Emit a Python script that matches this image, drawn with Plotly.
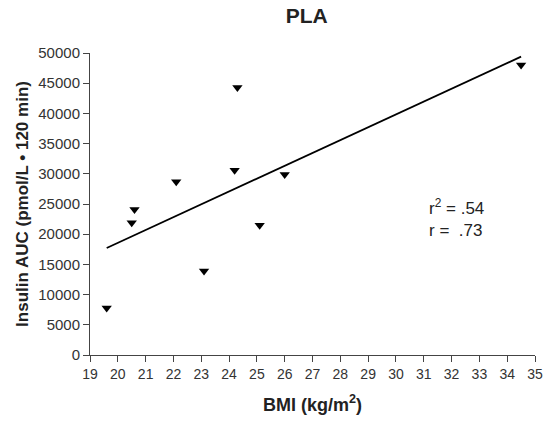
import numpy as np
import plotly.graph_objects as go

bmi = [19.6, 20.5, 20.6, 22.1, 23.1, 24.2, 24.3, 25.1, 26.0, 34.5]
insulin_auc = [7800, 21900, 24100, 28700, 13900, 30600, 44300, 21500, 29900, 48000]
x_ticks = list(range(19, 36))
y_ticks = list(range(0, 50001, 5000))
y_ticktext = [str(v) for v in y_ticks]

slope, intercept = np.polyfit(bmi, insulin_auc, 1)
fit_x = [min(bmi), max(bmi)]
fit_y = [slope * v + intercept for v in fit_x]

font = "Arial, Liberation Sans, sans-serif"
fig = go.Figure()
fig.add_trace(go.Scatter(x=fit_x, y=fit_y, mode="lines",
                         line=dict(color="black", width=1.8), showlegend=False))
fig.add_trace(go.Scatter(x=bmi, y=insulin_auc, mode="markers",
                         marker=dict(symbol="triangle-down", size=9, color="black"),
                         showlegend=False))
fig.add_annotation(x=31.1, y=22700, xref="x", yref="y", xanchor="left", yanchor="middle",
                   text="r<sup>2</sup> = .54<br>r =  .73", showarrow=False, align="left",
                   font=dict(family=font, size=17, color="#222"))
fig.add_annotation(x=0.5, y=-0.16, xref="paper", yref="paper", xanchor="center", yanchor="middle",
                   text="<b>BMI (kg/m<sup>2</sup>)</b>", showarrow=False,
                   font=dict(family=font, size=18, color="#222"))
fig.update_layout(
    width=552, height=423, margin=dict(l=90, r=9, t=53, b=68),
    paper_bgcolor="white", plot_bgcolor="white",
    title=dict(text="<b>PLA</b>", xref="paper", x=0.487, xanchor="center", y=0.964, yanchor="middle",
               font=dict(family=font, size=21, color="#222")),
    font=dict(family=font, size=13, color="#333"),
)
fig.update_xaxes(range=[19, 35], tickvals=x_ticks, showgrid=False, zeroline=False,
                 showline=True, linecolor="#444", linewidth=1, ticks="outside",
                 ticklen=6, tickcolor="#444", tickfont=dict(size=14))
fig.update_yaxes(range=[0, 50000], tickvals=y_ticks, ticktext=y_ticktext, showgrid=False, zeroline=False,
                 showline=True, linecolor="#444", linewidth=1, ticks="outside",
                 ticklen=6, tickcolor="#444", tickfont=dict(size=15),
                 title=dict(text="<b>Insulin AUC (pmol/L • 120 min)</b>", font=dict(family=font, size=17, color="#222"), standoff=5))
fig.write_html("out.html")
